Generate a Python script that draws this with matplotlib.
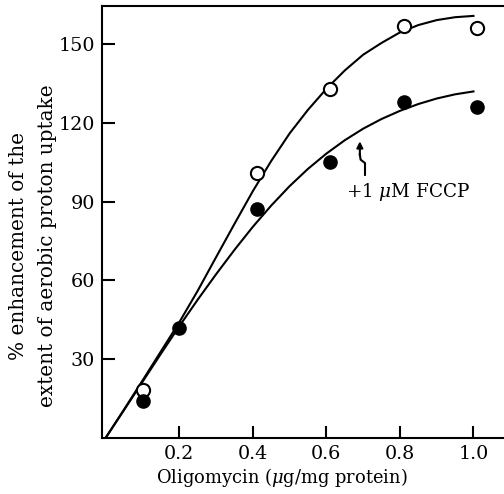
import matplotlib
matplotlib.use("Agg")
import matplotlib.pyplot as plt

# measured points
open_x = [0.1, 0.41, 0.61, 0.81, 1.01]
open_y = [18, 101, 133, 157, 156]
filled_x = [0.1, 0.2, 0.41, 0.61, 0.81, 1.01]
filled_y = [14, 42, 87, 105, 128, 126]

# fitted curves
curve_x = [0.0, 0.05, 0.1, 0.15, 0.2, 0.25, 0.3, 0.35, 0.4, 0.45, 0.5,
           0.55, 0.6, 0.65, 0.7, 0.75, 0.8, 0.85, 0.9, 0.95, 1.0]
upper_y = [0, 10.8, 21.8, 32.9, 44, 56, 68.8, 81.5, 94, 105.5, 116,
           125, 133, 140, 146, 150.5, 154.5, 157.3, 159.2, 160.3, 160.8]
lower_y = [0, 10.6, 21.3, 32, 42.5, 52.6, 62.3, 71.6, 80.4, 88.5, 95.9,
           102.5, 108.3, 113.4, 117.8, 121.5, 124.6, 127.2, 129.3, 130.9, 132]

xticks = [0.2, 0.4, 0.6, 0.8, 1.0]
xticklabels = ['0.2', '0.4', '0.6', '0.8', '1.0']
yticks = [30, 60, 90, 120, 150]

plt.rcParams['font.family'] = 'DejaVu Serif'
plt.rcParams['mathtext.fontset'] = 'dejavuserif'

W, H = 504, 494
fig = plt.figure(figsize=(W / 100, H / 100), dpi=100)
ax = fig.add_axes([0.2018, 0.114, 0.7982, 0.874])

ax.plot(curve_x, upper_y, color='black', lw=1.5, solid_joinstyle='round')
ax.plot(curve_x, lower_y, color='black', lw=1.5, solid_joinstyle='round')
ax.plot(open_x, open_y, 'o', ms=9.5, mfc='white', mec='black', mew=1.5)
ax.plot(filled_x, filled_y, 'o', ms=9.5, color='black')

# FCCP arrow (squiggle)
ax.plot([0.705, 0.705, 0.693, 0.691], [100.2, 104.7, 106, 108], color='black', lw=1.5)
ax.annotate('', xy=(0.691, 113), xytext=(0.691, 107.5),
            arrowprops=dict(arrowstyle='-|>', color='black', lw=1.5,
                            mutation_scale=9, shrinkA=0, shrinkB=0))
ax.text(0.652, 93.5, r'+1 $\mu$M FCCP', fontsize=13.2, va='center', ha='left')

ax.set_xlim(-0.011, 1.083)
ax.set_ylim(0, 164.6)
ax.set_xticks(xticks)
ax.set_xticklabels(xticklabels)
ax.set_yticks(yticks)
ax.tick_params(direction='in', length=9, width=1.5, labelsize=13.8, pad=5)
for side in ['left', 'bottom', 'top']:
    ax.spines[side].set_linewidth(1.5)
ax.spines['right'].set_visible(False)

# axis labels placed as in the original typesetting
fig.text(282 / W, 1 - 477 / H, r'Oligomycin ($\mu$g/mg protein)',
         fontsize=12.9, ha='center', va='center')
fig.text(19 / W, 1 - 246 / H, '% enhancement of the', rotation=90,
         fontsize=14.4, ha='center', va='center')
fig.text(48 / W, 1 - 246 / H, 'extent of aerobic proton uptake', rotation=90,
         fontsize=14.4, ha='center', va='center')

fig.savefig('out.png', dpi=100)
